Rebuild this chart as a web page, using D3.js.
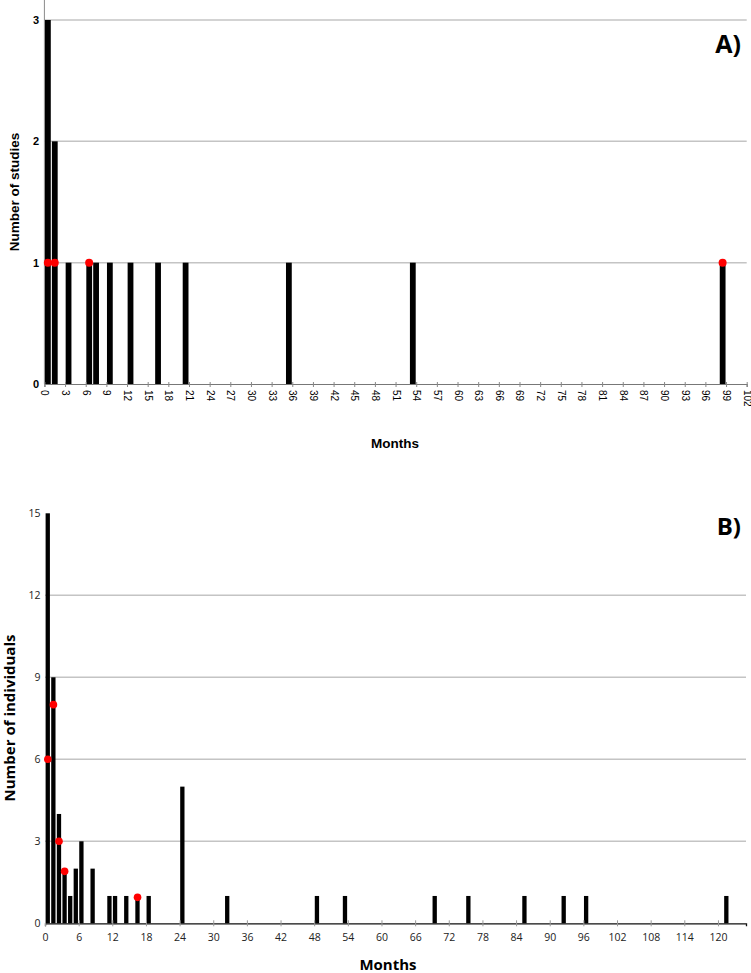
<!DOCTYPE html>
<html>
<head>
<meta charset="utf-8">
<script src="https://cdn.jsdelivr.net/npm/d3@7"></script>
<style>
  body { margin: 0; background: #fff; }
  svg { display: block; }
</style>
</head>
<body>
<script>
// data

// panel A: number of studies per month
var monthsA = [0, 1, 3, 6, 7, 9, 12, 16, 20, 35, 53, 98];
var studiesA = [3, 2, 1, 1, 1, 1, 1, 1, 1, 1, 1, 1];
var dotMonthsA = [0.5, 1.5, 6.5, 98.5];
var dotValuesA = [1, 1, 1, 1];
var xTicksA = [0, 3, 6, 9, 12, 15, 18, 21, 24, 27, 30, 33, 36, 39, 42, 45, 48, 51,
  54, 57, 60, 63, 66, 69, 72, 75, 78, 81, 84, 87, 90, 93, 96, 99, 102];
var yTicksA = [0, 1, 2, 3];

// panel B: number of individuals per month
var monthsB = [0, 1, 2, 3, 4, 5, 6, 8, 11, 12, 14, 16, 18, 24, 32, 48, 53, 69, 75, 85, 92, 96, 121];
var individualsB = [15, 9, 4, 2, 1, 2, 3, 2, 1, 1, 1, 1, 1, 5, 1, 1, 1, 1, 1, 1, 1, 1, 1];
var dotMonthsB = [0.5, 1.5, 2.5, 3.5, 16.5];
var dotValuesB = [6, 8, 3, 1.9, 0.95];
var xTicksB = [0, 6, 12, 18, 24, 30, 36, 42, 48, 54, 60, 66, 72, 78, 84, 90, 96, 102, 108, 114, 120];
var yTicksB = [0, 3, 6, 9, 12, 15];

var W = 751, H = 973;

var svg = d3.select('body').append('svg')
    .attr('width', W)
    .attr('height', H);

// ---------- panel A ----------
var xA = d3.scaleLinear().domain([0, 102]).range([44.4, 746.7]);
var yA = d3.scaleLinear().domain([0, 3]).range([384, 20]);
var fontA = '"Liberation Sans", Arial, sans-serif';

var gA = svg.append('g');

// grid
gA.selectAll('.gridA')
    .data(yTicksA.filter(function(d) { return d > 0; }))
    .enter().append('line')
    .attr('x1', xA(0)).attr('x2', xA(102))
    .attr('y1', function(d) { return yA(d); })
    .attr('y2', function(d) { return yA(d); })
    .style('stroke', '#c4c4c4')
    .style('stroke-width', 1.5);

// y axis line
gA.append('line')
    .attr('x1', xA(0)).attr('x2', xA(0))
    .attr('y1', 0).attr('y2', yA(0))
    .style('stroke', '#8a8a8a')
    .style('stroke-width', 1);

// bars
gA.selectAll('.barA')
    .data(monthsA)
    .enter().append('rect')
    .attr('x', function(d) { return xA(d) + 0.6; })
    .attr('width', function(d) { return xA(d + 1) - xA(d) - 1.1; })
    .attr('y', function(d, i) { return yA(studiesA[i]); })
    .attr('height', function(d, i) { return yA(0) - yA(studiesA[i]); })
    .style('fill', '#000');

// x axis
var axA = gA.append('g')
    .attr('transform', 'translate(0,' + yA(0) + ')')
    .call(d3.axisBottom(xA).tickValues(xTicksA).tickSize(3).tickPadding(4));
axA.select('.domain').attr('stroke', '#777').attr('stroke-width', 1.2);
axA.selectAll('.tick line').attr('stroke', '#888').attr('y1', -2);
axA.selectAll('.tick text')
    .attr('transform', 'rotate(90)')
    .attr('x', 6).attr('y', 0).attr('dy', '0.35em')
    .style('text-anchor', 'start')
    .style('font-family', fontA)
    .style('font-size', '10px')
    .style('fill', '#000');

// y tick labels
gA.selectAll('.ylabA')
    .data(yTicksA)
    .enter().append('text')
    .attr('x', 39)
    .attr('y', function(d) { return yA(d); })
    .attr('dy', '0.35em')
    .style('text-anchor', 'end')
    .style('font-family', fontA)
    .style('font-weight', 'bold')
    .style('font-size', '11px')
    .text(function(d) { return d; });

// dots
gA.selectAll('.dotA')
    .data(dotMonthsA)
    .enter().append('circle')
    .attr('cx', function(d) { return xA(d); })
    .attr('cy', function(d, i) { return yA(dotValuesA[i]); })
    .attr('r', 4)
    .style('fill', '#ff0000');

// titles
gA.append('text')
    .attr('transform', 'translate(14.5,' + 192 + ') rotate(-90)')
    .attr('dy', '0.35em')
    .style('text-anchor', 'middle')
    .style('font-family', fontA)
    .style('font-weight', 'bold')
    .style('font-size', '13.5px')
    .text('Number of studies');

gA.append('text')
    .attr('x', 395).attr('y', 448)
    .style('text-anchor', 'middle')
    .style('font-family', fontA)
    .style('font-weight', 'bold')
    .style('font-size', '13.5px')
    .text('Months');

gA.append('text')
    .attr('x', 741).attr('y', 53)
    .style('text-anchor', 'end')
    .style('font-family', '"Open Sans", sans-serif')
    .style('font-weight', 'bold')
    .style('font-size', '25px')
    .text('A)');

// ---------- panel B ----------
var xB = d3.scaleLinear().domain([0, 125]).range([45, 746]);
var yB = d3.scaleLinear().domain([0, 15]).range([923.3, 513.3]);
var fontB = '"Open Sans", "DejaVu Sans", sans-serif';

var gB = svg.append('g');

gB.selectAll('.gridB')
    .data(yTicksB.filter(function(d) { return d > 0 && d < 15; }))
    .enter().append('line')
    .attr('x1', xB(0)).attr('x2', xB(125))
    .attr('y1', function(d) { return yB(d); })
    .attr('y2', function(d) { return yB(d); })
    .style('stroke', '#c4c4c4')
    .style('stroke-width', 1.5);

gB.selectAll('.barB')
    .data(monthsB)
    .enter().append('rect')
    .attr('x', function(d) { return xB(d) + 0.6; })
    .attr('width', function(d) { return xB(d + 1) - xB(d) - 1.3; })
    .attr('y', function(d, i) { return yB(individualsB[i]); })
    .attr('height', function(d, i) { return yB(0) - yB(individualsB[i]); })
    .style('fill', '#000');

var axB = gB.append('g')
    .attr('transform', 'translate(0,' + yB(0) + ')')
    .call(d3.axisBottom(xB).tickValues(xTicksB).tickSize(3).tickPadding(7));
axB.select('.domain').attr('stroke', '#111').attr('stroke-width', 1.3);
axB.selectAll('.tick line').attr('stroke', '#999').attr('y1', -3);
axB.selectAll('.tick text')
    .style('font-family', fontB)
    .style('font-size', '10.5px')
    .style('fill', '#222');

gB.selectAll('.ylabB')
    .data(yTicksB)
    .enter().append('text')
    .attr('x', 40.5)
    .attr('y', function(d) { return yB(d); })
    .attr('dy', '0.35em')
    .style('text-anchor', 'end')
    .style('font-family', fontB)
    .style('font-size', '10.5px')
    .style('fill', '#222')
    .text(function(d) { return d; });

gB.selectAll('.dotB')
    .data(dotMonthsB)
    .enter().append('circle')
    .attr('cx', function(d) { return xB(d); })
    .attr('cy', function(d, i) { return yB(dotValuesB[i]); })
    .attr('r', 3.8)
    .style('fill', '#ff0000');

gB.append('text')
    .attr('transform', 'translate(9.5,' + 718 + ') rotate(-90)')
    .attr('dy', '0.35em')
    .style('text-anchor', 'middle')
    .style('font-family', fontB)
    .style('font-weight', 'bold')
    .style('font-size', '15px')
    .text('Number of individuals');

gB.append('text')
    .attr('x', 388).attr('y', 970)
    .style('text-anchor', 'middle')
    .style('font-family', fontB)
    .style('font-weight', 'bold')
    .style('font-size', '15px')
    .text('Months');

gB.append('text')
    .attr('x', 741).attr('y', 535)
    .style('text-anchor', 'end')
    .style('font-family', '"Open Sans", sans-serif')
    .style('font-weight', 'bold')
    .style('font-size', '24px')
    .text('B)');
</script>
</body>
</html>
